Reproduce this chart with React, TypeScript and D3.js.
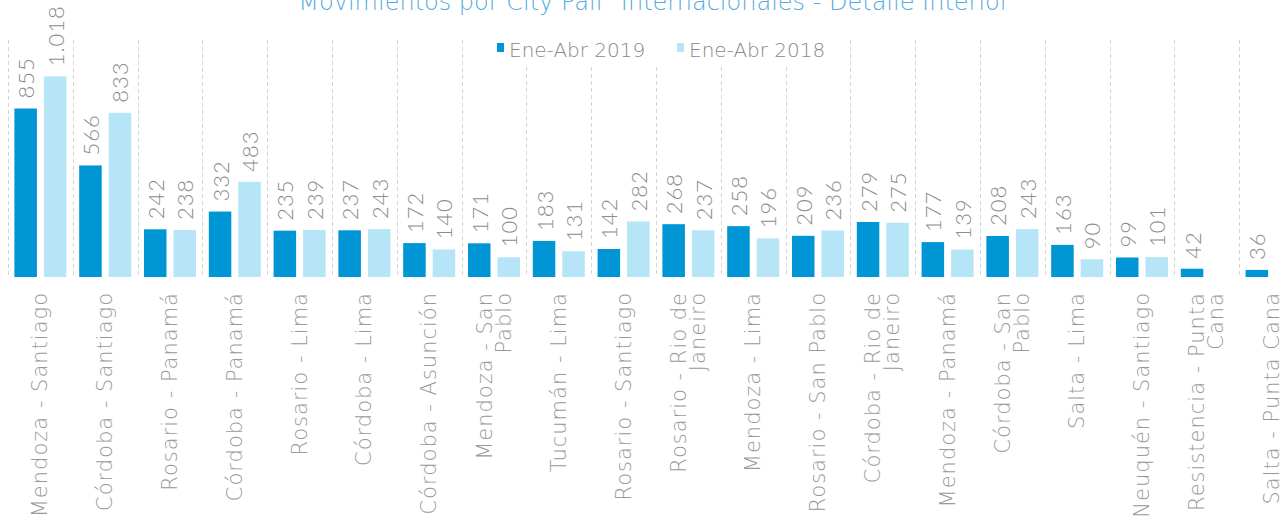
import * as d3 from "d3";

const categories = [
  "Mendoza - Santiago",
  "Córdoba - Santiago",
  "Rosario - Panamá",
  "Córdoba - Panamá",
  "Rosario - Lima",
  "Córdoba - Lima",
  "Córdoba - Asunción",
  "Mendoza - San\nPablo",
  "Tucumán - Lima",
  "Rosario - Santiago",
  "Rosario - Rio de\nJaneiro",
  "Mendoza - Lima",
  "Rosario - San Pablo",
  "Córdoba - Rio de\nJaneiro",
  "Mendoza - Panamá",
  "Córdoba - San\nPablo",
  "Salta - Lima",
  "Neuquén - Santiago",
  "Resistencia - Punta\nCana",
  "Salta - Punta Cana",
];

const series = ["Ene-Abr 2019", "Ene-Abr 2018"];

const values2019 = [855, 566, 242, 332, 235, 237, 172, 171, 183, 142, 268, 258, 209, 279, 177, 208, 163, 99, 42, 36];
const values2018: (number | null)[] = [1018, 833, 238, 483, 239, 243, 140, 100, 131, 282, 237, 196, 236, 275, 139, 243, 90, 101, null, null];

const colors = ["#0095d5", "#b5e5f6"];

const W = 1287;
const H = 523;
const FONT = "'DejaVu Sans', sans-serif";
const NUM_FONT = "Lato, 'DejaVu Sans', sans-serif";
const baseY = 277;

const fmt = d3.formatLocale({ decimal: ",", thousands: ".", grouping: [3], currency: ["", ""] }).format(",d");

export default function App() {
  const x = d3.scaleBand<number>().domain(d3.range(categories.length)).range([8, 8 + 20 * 64.8]);
  const xs = d3.scaleBand<number>().domain([0, 1]).range([0, x.bandwidth()]).paddingInner(0.237).paddingOuter(0.217);
  const y = d3.scaleLinear().domain([0, 1200]).range([baseY, 40.5]);

  const rows = categories.map((c, i) => ({ c, i, vals: [values2019[i], values2018[i]] }));

  const legendX0 = 490;
  const legendX1 = 830;

  return (
    <svg width={W} height={H} style={{ position: "absolute", left: 0, top: 0, fontFamily: FONT }}>
      <rect width={W} height={H} fill="#fff" />
      <text x={654} y={10} textAnchor="middle" fontSize={24} fontWeight={200} fill="#55abe0" style={{ whiteSpace: "pre" }}>
        Movimientos por City Pair  Internacionales - Detalle Interior
      </text>

      {rows.map(({ i }) => {
        const sx = Math.round(x(i)!) + 0.5;
        const top = sx > legendX0 && sx < legendX1 ? 67 : 40;
        return <line key={"s" + i} x1={sx} x2={sx} y1={top} y2={baseY} stroke="#d4d4d4" strokeDasharray="4 3" />;
      })}

      {rows.map(({ i, vals }) =>
        vals.map((v, s) =>
          v == null ? null : (
            <g key={`b${i}-${s}`}>
              <rect x={x(i)! + xs(s)!} y={y(v)} width={xs.bandwidth()} height={baseY - y(v)} fill={colors[s]} />
              <text
                transform={`translate(${x(i)! + xs(s)! + xs.bandwidth() / 2},${y(v) - 10}) rotate(-90)`}
                dominantBaseline="central"
                fontFamily={NUM_FONT}
                fontSize={22}
                fontWeight={300}
                fill="#8c8c8c"
                letterSpacing={1}
              >
                {fmt(v)}
              </text>
            </g>
          )
        )
      )}

      {rows.map(({ c, i }) => {
        const lines = c.split("\n");
        const lh = 19;
        return (
          <text
            key={"l" + i}
            transform={`translate(${x(i)! + x.bandwidth() / 2},${292}) rotate(-90)`}
            textAnchor="end"
            fontSize={21}
            fontWeight={200}
            fill="#999"
            letterSpacing={1}
          >
            {lines.map((t, k) => (
              <tspan key={k} x={0} y={(k - (lines.length - 1) / 2) * lh} dominantBaseline="central">
                {t}
              </tspan>
            ))}
          </text>
        );
      })}

      {series.map((s, k) => {
        const lx = [497, 677][k];
        return (
          <g key={"lg" + k}>
            <rect x={lx} y={43} width={7} height={9} fill={colors[k]} />
            <text x={lx + 12} y={57} fontSize={20} fontWeight={200} fill="#888">
              {s}
            </text>
          </g>
        );
      })}
    </svg>
  );
}
